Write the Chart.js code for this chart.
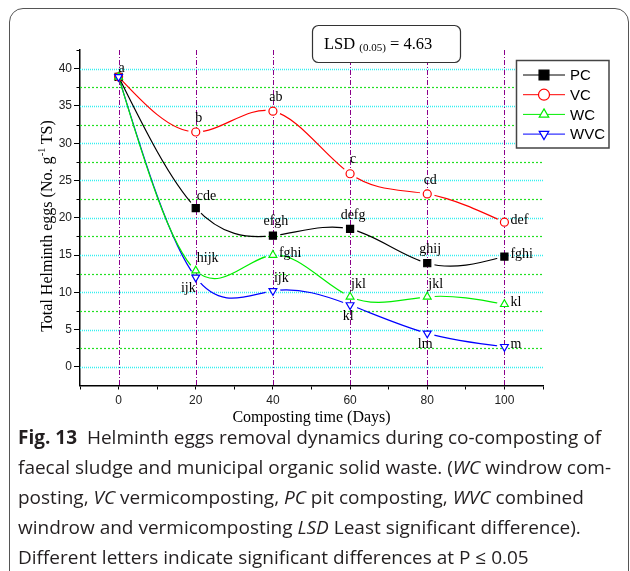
<!DOCTYPE html>
<html>
<head>
<meta charset="utf-8">
<script src="https://cdn.jsdelivr.net/npm/chart.js@4"></script>
<style>
body{margin:0;background:#fff;width:630px;height:571px;overflow:hidden;position:relative}
#frame{position:absolute;left:9px;top:8px;width:620px;height:580px;border:1.5px solid #555;border-radius:14px;box-sizing:border-box}
#chart{position:absolute;left:0;top:0}
#caption{position:absolute;left:18px;top:422px;font-family:"Open Sans";font-size:19px;line-height:30px;color:#231f20;white-space:nowrap}
#caption b{font-weight:700}
</style>
</head>
<body>
<div id="frame"></div>
<canvas id="chart" width="630" height="430"></canvas>
<div id="caption"><b>Fig. 13</b>&nbsp; Helminth eggs removal dynamics during co-composting of<br>faecal sludge and municipal organic solid waste. (<i>WC</i> windrow com-<br>posting, <i>VC</i> vermicomposting, <i>PC</i> pit composting, <i>WVC</i> combined<br>windrow and vermicomposting <i>LSD</i> Least significant difference).<br>Different letters indicate significant differences at P &le; 0.05</div>

<script>
// sampling days and helminth eggs (No. g-1 TS) per treatment
const days = [0, 20, 40, 60, 80, 100]
const pcEggs = [38.9, 21.3, 17.6, 18.5, 13.9, 14.8]
const vcEggs = [38.9, 31.5, 34.3, 25.9, 23.2, 19.4]
const wcEggs = [38.9, 12.9, 15.0, 9.4, 9.4, 8.4]
const wvcEggs = [38.9, 12.0, 10.2, 8.3, 4.5, 2.7]

// significance letters
const pcLetters = ["", "cde", "efgh", "defg", "ghij", "fghi"]
const vcLetters = ["", "b", "ab", "c", "cd", "def"]
const wcLetters = ["", "hijk", "fghi", "jkl", "jkl", "kl"]
const wvcLetters = ["a", "ijk", "ijk", "kl", "lm", "m"]

const xTickLabels = [0, 20, 40, 60, 80, 100]
const yTickLabels = [0, 5, 10, 15, 20, 25, 30, 35, 40]
const lsdValue = "4.63"

const serif = "Liberation Serif"
const sans = "Liberation Sans"

// where each letter sits around its point: [align, dx, dy]
const spots = {
  near: ["center", 3, -9],
  top: ["center", 3, -14],
  topRight: ["left", 1, -12],
  right: ["left", 6, -2],
  below: ["center", -2, 11],
  belowLeft: ["right", 0, 11]
}

function pts(vals){
  return days.map((d, i) => ({x: d, y: vals[i]}))
}

// natural cubic spline through the point elements, drawn as bezier pieces
function strokeSpline(ctx, p){
  let n = p.length
  if(n < 2) return
  let h = [], m = new Array(n).fill(0)
  for(let i = 0; i < n - 1; i++) h.push(p[i+1].x - p[i].x)
  // tridiagonal solve for second derivatives, ends fixed at 0
  let a = [], b = [], c = [], r = []
  for(let i = 1; i < n - 1; i++){
    a.push(h[i-1])
    b.push(2 * (h[i-1] + h[i]))
    c.push(h[i])
    r.push(6 * ((p[i+1].y - p[i].y) / h[i] - (p[i].y - p[i-1].y) / h[i-1]))
  }
  let k = r.length
  for(let i = 1; i < k; i++){
    let w = a[i] / b[i-1]
    b[i] -= w * c[i-1]
    r[i] -= w * r[i-1]
  }
  for(let i = k - 1; i >= 0; i--){
    let next = i < k - 1 ? m[i+2] : 0
    m[i+1] = (r[i] - c[i] * next) / b[i]
  }
  ctx.beginPath()
  ctx.moveTo(p[0].x, p[0].y)
  for(let i = 0; i < n - 1; i++){
    let hi = h[i]
    let s = (p[i+1].y - p[i].y) / hi
    let d0 = s - hi * (2 * m[i] + m[i+1]) / 6
    let d1 = s + hi * (m[i] + 2 * m[i+1]) / 6
    ctx.bezierCurveTo(
      p[i].x + hi / 3, p[i].y + d0 * hi / 3,
      p[i+1].x - hi / 3, p[i+1].y - d1 * hi / 3,
      p[i+1].x, p[i+1].y)
  }
  ctx.stroke()
}

// cyan/green horizontal grid, purple verticals, minor ticks, then the curves
const gridPlugin = {
  id: "gridLines",
  beforeDatasetsDraw(chart){
    let ctx = chart.ctx
    let a = chart.chartArea
    let xs = chart.scales.x, ys = chart.scales.y
    ctx.save()
    ys.ticks.forEach(t => {
      let v = t.value
      let y = Math.round(ys.getPixelForValue(v)) + 0.5
      // short minor tick on the y axis
      if(!yTickLabels.includes(v) && v > -2.5){
        ctx.beginPath()
        ctx.strokeStyle = "#000"
        ctx.lineWidth = 1
        ctx.setLineDash([])
        ctx.moveTo(a.left - 3.5, y)
        ctx.lineTo(a.left, y)
        ctx.stroke()
      }
      if(v < 0 || v > 40) return
      ctx.beginPath()
      if(v % 5 === 0){
        ctx.strokeStyle = "#33f0f0"
        ctx.lineWidth = 1.5
        ctx.setLineDash([1, 1])
      } else {
        ctx.strokeStyle = "#22e022"
        ctx.lineWidth = 1.2
        ctx.setLineDash([2, 2])
      }
      ctx.moveTo(a.left, y)
      ctx.lineTo(a.right, y)
      ctx.stroke()
    })
    xs.ticks.forEach(t => {
      if(!xTickLabels.includes(t.value)) return
      let x = Math.round(xs.getPixelForValue(t.value)) + 0.5
      ctx.beginPath()
      ctx.strokeStyle = "#8a008a"
      ctx.lineWidth = 1
      ctx.setLineDash([5, 2, 1, 2])
      ctx.moveTo(x, a.top)
      ctx.lineTo(x, a.bottom)
      ctx.stroke()
    })
    ctx.setLineDash([])
    ctx.lineWidth = 1.2
    for(let di = chart.data.datasets.length - 1; di >= 0; di--){
      let ds = chart.data.datasets[di]
      let p = chart.getDatasetMeta(di).data.map(e => ({x: e.x, y: e.y}))
      // leave a small gap round each marker
      ctx.save()
      ctx.beginPath()
      ctx.rect(0, 0, chart.width, chart.height)
      p.slice(1).forEach(q => {
        ctx.moveTo(q.x + 7.5, q.y)
        ctx.arc(q.x, q.y, 7.5, 0, Math.PI * 2)
      })
      ctx.clip("evenodd")
      ctx.strokeStyle = ds.borderColor
      strokeSpline(ctx, p)
      ctx.restore()
    }
    ctx.restore()
  }
}

// letters, axis titles, legend and LSD box
const notesPlugin = {
  id: "notes",
  afterDatasetsDraw(chart){
    let ctx = chart.ctx
    ctx.save()
    ctx.fillStyle = "#000"
    ctx.font = "14px " + serif
    ctx.textBaseline = "middle"
    chart.data.datasets.forEach((ds, di) => {
      let meta = chart.getDatasetMeta(di)
      ds.letters.forEach((txt, i) => {
        if(!txt) return
        let p = meta.data[i]
        let s = spots[ds.letterSpots[i]]
        ctx.textAlign = s[0]
        ctx.fillText(txt, p.x + s[1], p.y + s[2])
      })
    })
    ctx.restore()
  },
  afterDraw(chart){
    let ctx = chart.ctx
    let a = chart.chartArea
    ctx.save()
    ctx.fillStyle = "#000"

    // x title
    ctx.font = "16px " + serif
    ctx.textAlign = "center"
    ctx.textBaseline = "alphabetic"
    ctx.fillText("Composting time (Days)", (a.left + a.right) / 2, 421.5)

    // y title with superscript
    ctx.save()
    ctx.translate(52, 226)
    ctx.rotate(-Math.PI / 2)
    ctx.textAlign = "left"
    let t1 = "Total Helminth eggs (No. g", t2 = "-1", t3 = " TS)"
    ctx.font = "16px " + serif
    let w1 = ctx.measureText(t1).width, w3 = ctx.measureText(t3).width
    ctx.font = "10px " + serif
    let w2 = ctx.measureText(t2).width
    let x = -(w1 + w2 + w3) / 2
    ctx.font = "16px " + serif
    ctx.fillText(t1, x, 0)
    ctx.font = "10px " + serif
    ctx.fillText(t2, x + w1 + 0.5, -7)
    ctx.font = "16px " + serif
    ctx.fillText(t3, x + w1 + w2, 0)
    ctx.restore()

    // LSD box
    ctx.beginPath()
    ctx.roundRect(312.5, 25.5, 148, 37, 6)
    ctx.fillStyle = "#fff"
    ctx.fill()
    ctx.strokeStyle = "#333"
    ctx.lineWidth = 1.2
    ctx.stroke()
    ctx.fillStyle = "#000"
    ctx.textAlign = "left"
    ctx.font = "16.5px " + serif
    ctx.fillText("LSD", 324, 48.5)
    let lx = 324 + ctx.measureText("LSD ").width
    ctx.font = "11px " + serif
    ctx.fillText("(0.05)", lx, 50.5)
    lx += ctx.measureText("(0.05)").width
    ctx.font = "16.5px " + serif
    ctx.fillText(" = " + lsdValue, lx, 48.5)

    // legend
    ctx.beginPath()
    ctx.rect(516.5, 60.5, 92.5, 87.5)
    ctx.fillStyle = "#fff"
    ctx.fill()
    ctx.strokeStyle = "#444"
    ctx.lineWidth = 1.5
    ctx.stroke()
    chart.data.datasets.forEach((ds, i) => {
      let y = 75 + i * 19.7
      ctx.beginPath()
      ctx.strokeStyle = ds.borderColor
      ctx.lineWidth = 1
      ctx.moveTo(523, y)
      ctx.lineTo(565, y)
      ctx.stroke()
      ctx.fillStyle = ds.pointBackgroundColor
      ctx.strokeStyle = ds.borderColor
      ctx.lineWidth = 1.2
      Chart.helpers.drawPoint(ctx, {
        pointStyle: ds.pointStyle,
        radius: ds.pointStyle === "rect" ? 7 : 5.5,
        rotation: ds.pointRotation || 0,
        borderWidth: 1.2
      }, 544, y)
      ctx.fillStyle = "#000"
      ctx.font = "15px " + sans
      ctx.textAlign = "left"
      ctx.textBaseline = "middle"
      ctx.fillText(ds.label, 570, y + 1)
    })
    ctx.restore()
  }
}

new Chart(document.getElementById("chart"), {
  type: "line",
  data: {
    datasets: [
      {
        label: "PC",
        data: pts(pcEggs),
        letters: pcLetters,
        letterSpots: ["top", "topRight", "top", "top", "top", "right"],
        borderColor: "#000000",
        pointBackgroundColor: "#000000",
        pointStyle: "rect",
        pointRadius: 5,
        order: 4
      },
      {
        label: "VC",
        data: pts(vcEggs),
        letters: vcLetters,
        letterSpots: ["top", "top", "top", "top", "top", "right"],
        borderColor: "#ff0000",
        pointBackgroundColor: "#ffffff",
        pointStyle: "circle",
        pointRadius: 4,
        order: 3
      },
      {
        label: "WC",
        data: pts(wcEggs),
        letters: wcLetters,
        letterSpots: ["top", "topRight", "right", "topRight", "topRight", "right"],
        borderColor: "#00ee00",
        pointBackgroundColor: "#ffffff",
        pointStyle: "triangle",
        pointRadius: 4.5,
        order: 2
      },
      {
        label: "WVC",
        data: pts(wvcEggs),
        letters: wvcLetters,
        letterSpots: ["near", "belowLeft", "topRight", "below", "below", "right"],
        borderColor: "#0000ff",
        pointBackgroundColor: "#ffffff",
        pointStyle: "triangle",
        pointRotation: 180,
        pointRadius: 4.5,
        order: 1
      }
    ]
  },
  options: {
    responsive: false,
    animation: false,
    devicePixelRatio: 1,
    layout: {padding: {left: 0, right: 87, top: 50, bottom: 0}},
    datasets: {
      line: {
        showLine: false,
        pointBorderWidth: 1.2,
        fill: false
      }
    },
    plugins: {
      legend: {display: false},
      tooltip: {enabled: false}
    },
    scales: {
      x: {
        type: "linear",
        min: -10,
        max: 110,
        afterFit(scale){ scale.height = 44.5 },
        grid: {drawOnChartArea: false, tickLength: 4, tickColor: "#000"},
        border: {color: "#000", width: 1.5},
        ticks: {
          stepSize: 10,
          autoSkip: false,
          maxRotation: 0,
          padding: 4,
          color: "#222",
          font: {family: sans, size: 12},
          callback: v => xTickLabels.includes(v) ? v : ""
        }
      },
      y: {
        min: -2.5,
        max: 42.5,
        afterFit(scale){ scale.width = 80 },
        grid: {
          drawOnChartArea: false,
          tickLength: 6,
          tickColor: c => c.tick && yTickLabels.includes(c.tick.value) ? "#000" : "rgba(0,0,0,0)"
        },
        border: {color: "#000", width: 1.5},
        ticks: {
          stepSize: 2.5,
          autoSkip: false,
          padding: 2,
          color: "#222",
          font: {family: sans, size: 12},
          callback: v => yTickLabels.includes(v) ? v : ""
        }
      }
    }
  },
  plugins: [gridPlugin, notesPlugin]
})
</script>
</body>
</html>
